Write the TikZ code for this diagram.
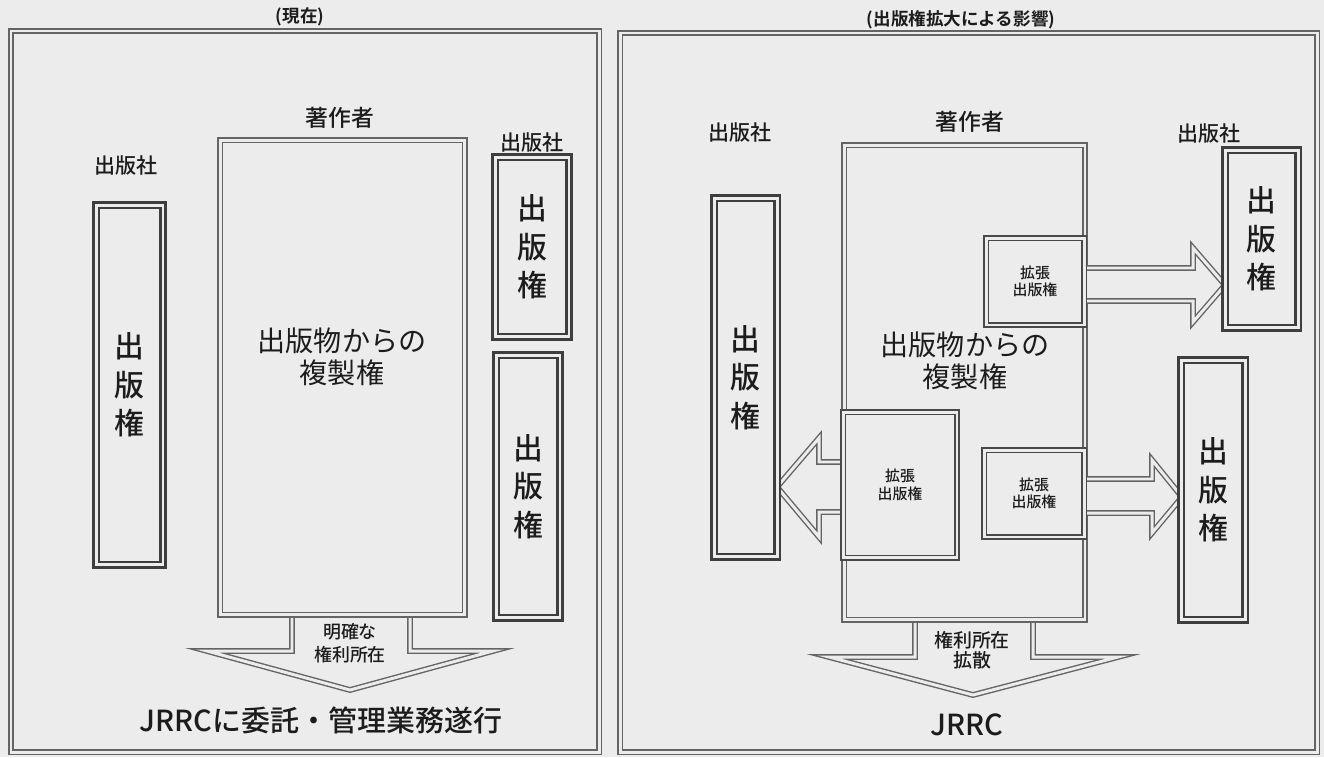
\documentclass[tikz,border=0pt]{standalone}
\usepackage{fontspec}
\setmainfont{Noto Sans CJK JP}[BoldFont={Noto Sans CJK JP Medium}]
\newfontfamily\heavyfont{Noto Sans CJK JP Bold}
\usetikzlibrary{positioning}
\definecolor{paper}{RGB}{236,236,236}
\definecolor{ink}{RGB}{28,28,28}
\definecolor{rule}{RGB}{100,100,100}

\begin{document}
\begin{tikzpicture}[x=0.02cm, y=-0.02cm,
  frame/.style={draw=rule, double=paper, double distance=1.7pt, line width=0.8pt},
  box/.style={frame, fill=paper, inner sep=0pt, text=ink, align=center},
  pub/.style={box, draw=ink!85, line width=1.2pt, font=\fontsize{17}{22}\selectfont\bfseries},
  ext/.style={box, draw=ink!80, line width=1pt, font=\fontsize{8.5}{10}\selectfont\bfseries},
  barrow/.style={frame, fill=paper, line join=miter},
  lbl/.style={text=ink, inner sep=0pt, align=center, font=\fontsize{12}{14}\selectfont\bfseries},
  ttl/.style={lbl, font=\fontsize{10}{12}\selectfont\heavyfont}]
\fill[paper] (0,0) rectangle (1324,757);
\useasboundingbox (0,0) rectangle (1324,757);

\draw[frame] (11,31) rectangle (599,752);
\draw[frame] (620,33) rectangle (1317,752);
\node[ttl] (t1) at (300,17) {(現在)};
\node[ttl] (t2) at (961,20) {(出版権拡大による影響)};

\draw[barrow] (292,615) -- (292,651) -- (207,651) -- (350,690) -- (493,651) -- (410,651) -- (410,615);
\node[box, minimum width=4.9cm, minimum height=9.5cm] (a1) at (342.5,377.5) {};
\node[pub, minimum width=1.34cm, minimum height=7.2cm] (p1) at (129.5,385) {出\\版\\権};
\node[pub, minimum width=1.48cm, minimum height=3.6cm] (p2) at (532,247) {出\\版\\権};
\node[pub, minimum width=1.28cm, minimum height=5.26cm] (p3) at (528,486.5) {出\\版\\権};
\node[lbl] (n1) at (340,118) {\fontsize{13}{15}\selectfont 著作者};
\node[lbl] (s1) at (126,165) {出版社};
\node[lbl] (s2) at (532,142) {出版社};
\node[lbl, font=\fontsize{16}{18}\selectfont] (c1) at (342,357) {出版物からの\\複製権};
\node[lbl, font=\fontsize{10.2}{13}\selectfont\bfseries] (r1) at (350,643) {明確な\\権利所在};
\node[lbl, font=\fontsize{16.5}{18}\selectfont\bfseries] (j1) at (321,720) {JRRCに委託・管理業務遂行};

\draw[barrow] (915,620) -- (915,657) -- (829,657) -- (973,695) -- (1118,657) -- (1033,657) -- (1033,620);
\node[box, minimum width=4.82cm, minimum height=9.5cm] (a2) at (964.5,382.5) {};
\draw[barrow] (1084,268) -- (1193,268) -- (1193,248) -- (1225,285) -- (1193,322) -- (1193,301) -- (1084,301);
\draw[barrow] (843,462) -- (819,462) -- (819,438) -- (777,487) -- (819,537) -- (819,512) -- (843,512);
\draw[barrow] (1084,479) -- (1152,479) -- (1152,460) -- (1182,497) -- (1152,533) -- (1152,513) -- (1084,513);
\node[ext, minimum width=1.96cm, minimum height=1.74cm] (e1) at (1035,281.5) {拡張\\出版権};
\node[ext, minimum width=2.28cm, minimum height=2.92cm] (e2) at (900,485) {拡張\\出版権};
\node[ext, minimum width=2.0cm, minimum height=1.74cm] (e3) at (1034,493.5) {拡張\\出版権};
\node[pub, minimum width=1.26cm, minimum height=7.18cm] (p4) at (745.5,377.5) {出\\版\\権};
\node[pub, minimum width=1.46cm, minimum height=3.56cm] (p5) at (1261.5,239) {出\\版\\権};
\node[pub, minimum width=1.28cm, minimum height=5.2cm] (p6) at (1213,490) {出\\版\\権};
\node[lbl] (n2) at (970,122) {\fontsize{13}{15}\selectfont 著作者};
\node[lbl] (s3) at (740,132) {出版社};
\node[lbl] (s4) at (1209,133) {出版社};
\node[lbl, font=\fontsize{16}{18}\selectfont] (c2) at (965,361) {出版物からの\\複製権};
\node[lbl, font=\fontsize{10.8}{11.5}\selectfont\bfseries] (r2) at (972,650) {権利所在\\拡散};
\node[lbl, font=\fontsize{16.5}{18}\selectfont\bfseries] (j2) at (967,725) {JRRC};
\end{tikzpicture}
\end{document}
